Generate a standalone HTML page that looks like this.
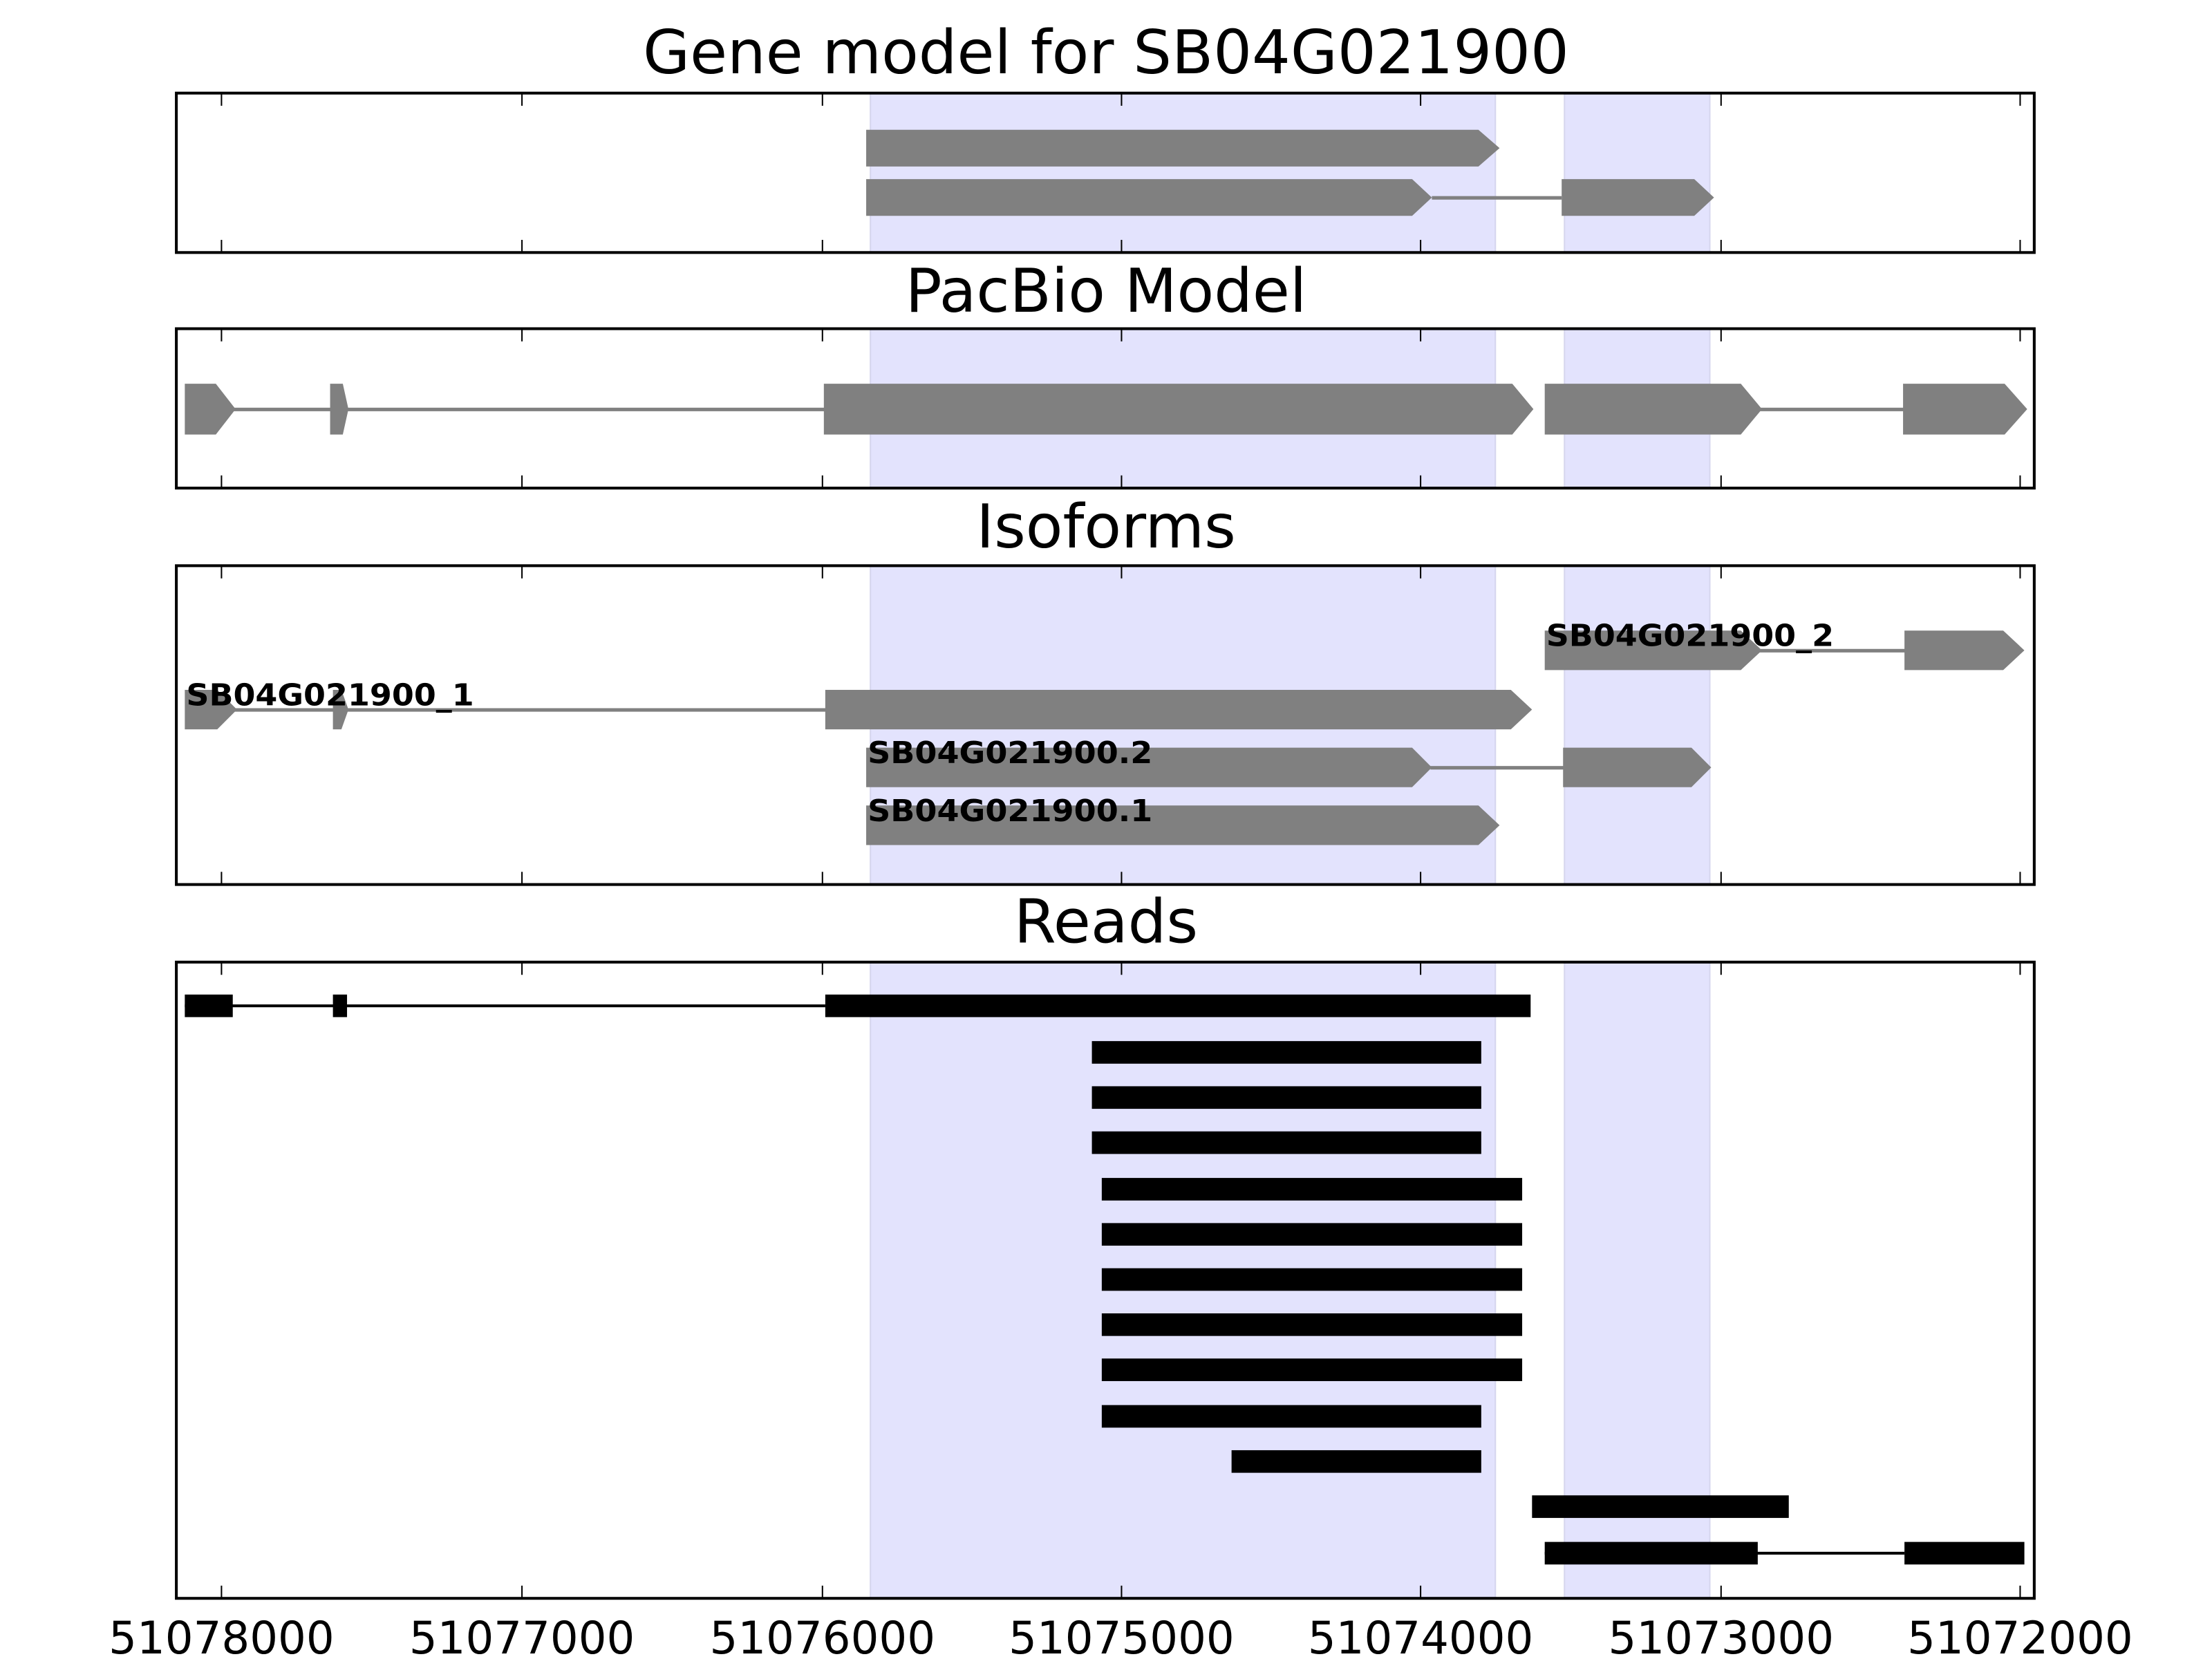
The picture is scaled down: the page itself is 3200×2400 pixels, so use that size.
<!DOCTYPE html>
<html><head><meta charset="utf-8"><style>
html,body{margin:0;padding:0;background:#fff;}
svg{display:block;}
text{font-family:"DejaVu Sans","Liberation Sans",sans-serif;}
</style></head><body>
<svg width="3200" height="2400" viewBox="0 0 1568 1176" xmlns="http://www.w3.org/2000/svg">
<rect width="1568" height="1176" fill="#fff"/>
<defs>
<g id="shade">
</g>
</defs>
<!-- Titles -->
<text x="784" y="52" font-size="43" text-anchor="middle">Gene model for SB04G021900</text>
<text x="784" y="221" font-size="43" text-anchor="middle">PacBio Model</text>
<text x="784" y="388" font-size="43" text-anchor="middle">Isoforms</text>
<text x="784" y="668" font-size="43" text-anchor="middle">Reads</text>

<!-- Shading bands -->
<g fill="#e3e3fd" stroke="#d6d6ee" stroke-width="1">
<rect x="617" y="66" width="443" height="113"/><rect x="1109" y="66" width="103" height="113"/>
<rect x="617" y="233" width="443" height="113"/><rect x="1109" y="233" width="103" height="113"/>
<rect x="617" y="401" width="443" height="226"/><rect x="1109" y="401" width="103" height="226"/>
<rect x="617" y="682" width="443" height="451"/><rect x="1109" y="682" width="103" height="451"/>
</g>

<!-- Panel 1 -->
<g fill="#808080">
<polygon points="614,92 1048,92 1063,105 1048,118 614,118"/>
<polygon points="614,127 1001,127 1015,140 1001,153 614,153"/>
<rect x="1015" y="139" width="92" height="2.5"/>
<polygon points="1107,127 1201,127 1215,140 1201,153 1107,153"/>
</g>

<!-- Panel 2 -->
<g fill="#808080">
<rect x="165" y="289" width="420" height="2.5"/>
<rect x="1247" y="289" width="103" height="2.5"/>
<polygon points="131,272 153,272 167,290 153,308 131,308"/>
<polygon points="234,272 243,272 247,290 243,308 234,308"/>
<polygon points="584,272 1072,272 1087,290 1072,308 584,308"/>
<polygon points="1095,272 1234,272 1249,290 1234,308 1095,308"/>
<polygon points="1349,272 1421,272 1437,290 1421,308 1349,308"/>
</g>

<!-- Panel 3 -->
<g fill="#808080">
<rect x="1247" y="460" width="104" height="2.5"/>
<polygon points="1095,447 1234,447 1249,461 1234,475 1095,475"/>
<polygon points="1350,447 1420,447 1435,461 1420,475 1350,475"/>
<rect x="166" y="502" width="420" height="2.5"/>
<polygon points="131,489 154,489 168,503 154,517 131,517"/>
<polygon points="236,489 242,489 247,503 242,517 236,517"/>
<polygon points="585,489 1071,489 1086,503 1071,517 585,517"/>
<rect x="1014" y="543" width="95" height="2.5"/>
<polygon points="614,530 1001,530 1015,544 1001,558 614,558"/>
<polygon points="1108,530 1199,530 1213,544 1199,558 1108,558"/>
<polygon points="614,571 1048,571 1063,585 1048,599 614,599"/>
</g>
<g font-size="21.5" font-weight="bold" fill="#000">
<text x="1096" y="458" textLength="204" lengthAdjust="spacingAndGlyphs">SB04G021900_2</text>
<text x="132" y="500" textLength="204" lengthAdjust="spacingAndGlyphs">SB04G021900_1</text>
<text x="615" y="541" textLength="202" lengthAdjust="spacingAndGlyphs">SB04G021900.2</text>
<text x="615" y="582" textLength="202" lengthAdjust="spacingAndGlyphs">SB04G021900.1</text>
</g>

<!-- Panel 4 reads -->
<g fill="#000">
<rect x="131" y="712" width="454" height="2"/>
<rect x="131" y="705" width="34" height="16"/>
<rect x="236" y="705" width="10" height="16"/>
<rect x="585" y="705" width="500" height="16"/>
<rect x="774" y="738" width="276" height="16"/>
<rect x="774" y="770" width="276" height="16"/>
<rect x="774" y="802" width="276" height="16"/>
<rect x="781" y="835" width="298" height="16"/>
<rect x="781" y="867" width="298" height="16"/>
<rect x="781" y="899" width="298" height="16"/>
<rect x="781" y="931" width="298" height="16"/>
<rect x="781" y="963" width="298" height="16"/>
<rect x="781" y="996" width="269" height="16"/>
<rect x="873" y="1028" width="177" height="16"/>
<rect x="1086" y="1060" width="182" height="16"/>
<rect x="1095" y="1100" width="255" height="2"/>
<rect x="1095" y="1093" width="151" height="16"/>
<rect x="1350" y="1093" width="85" height="16"/>
</g>

<!-- Axes frames -->
<g fill="none" stroke="#000" stroke-width="2">
<rect x="125" y="66" width="1317" height="113"/>
<rect x="125" y="233" width="1317" height="113"/>
<rect x="125" y="401" width="1317" height="226"/>
<rect x="125" y="682" width="1317" height="451"/>
</g>
<!-- Ticks -->
<g stroke="#000" stroke-width="1">
<path d="M157,66v9M370,66v9M583,66v9M795,66v9M1007,66v9M1220,66v9M1432,66v9
M157,179v-9M370,179v-9M583,179v-9M795,179v-9M1007,179v-9M1220,179v-9M1432,179v-9
M157,233v9M370,233v9M583,233v9M795,233v9M1007,233v9M1220,233v9M1432,233v9
M157,346v-9M370,346v-9M583,346v-9M795,346v-9M1007,346v-9M1220,346v-9M1432,346v-9
M157,401v9M370,401v9M583,401v9M795,401v9M1007,401v9M1220,401v9M1432,401v9
M157,627v-9M370,627v-9M583,627v-9M795,627v-9M1007,627v-9M1220,627v-9M1432,627v-9
M157,682v9M370,682v9M583,682v9M795,682v9M1007,682v9M1220,682v9M1432,682v9
M157,1133v-9M370,1133v-9M583,1133v-9M795,1133v-9M1007,1133v-9M1220,1133v-9M1432,1133v-9"/>
</g>
<!-- Tick labels -->
<g font-size="32" text-anchor="middle" fill="#000">
<text x="157" y="1172" textLength="160" lengthAdjust="spacingAndGlyphs">51078000</text>
<text x="370" y="1172" textLength="160" lengthAdjust="spacingAndGlyphs">51077000</text>
<text x="583" y="1172" textLength="160" lengthAdjust="spacingAndGlyphs">51076000</text>
<text x="795" y="1172" textLength="160" lengthAdjust="spacingAndGlyphs">51075000</text>
<text x="1007" y="1172" textLength="160" lengthAdjust="spacingAndGlyphs">51074000</text>
<text x="1220" y="1172" textLength="160" lengthAdjust="spacingAndGlyphs">51073000</text>
<text x="1432" y="1172" textLength="160" lengthAdjust="spacingAndGlyphs">51072000</text>
</g>
</svg>
</body></html>
